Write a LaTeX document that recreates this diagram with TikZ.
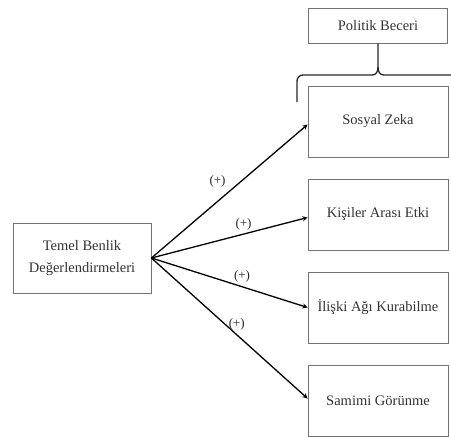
\documentclass[tikz,border=0pt]{standalone}
\usepackage{fontspec}
\setmainfont{Liberation Serif}
\usepackage{xcolor}

\begin{document}
\begin{tikzpicture}[->,>=stealth,line width=1.3pt,node distance=93pt,
  box/.style={draw=black!55,line width=0.8pt,text=black!80,align=center,
    minimum width=140pt,minimum height=71pt,font=\fontsize{14.5}{22}\selectfont},
  sign/.style={text=black!85,font=\fontsize{13}{15}\selectfont},
  brace/.style={-,line width=1.3pt,black!85}]

            \useasboundingbox (0,0) rectangle (451pt,-437pt);

            \node[box] (sz) at (378pt,-121.5pt) {Sosyal Zeka};
            \node[box] (kae) [below of = sz] {Kişiler Arası Etki};
            \node[box] (iak) [below of = kae] {İlişki Ağı Kurabilme};
            \node[box] (sg) [below of = iak] {Samimi Görünme};
            \node[box, minimum height=35pt, minimum width=139pt] (pb) [above of = sz, node distance=96pt] {Politik Beceri};
            \node[box, minimum width=138pt, minimum height=70pt] (tbd) at (82pt,-258pt) {Temel Benlik\\Değerlendirmeleri};

            \coordinate (bl) at (297pt,-102pt);
            \coordinate (br) at (451pt,-75pt);

            \draw (tbd.east) to node[sign, pos=0.5, above left] {(+)} ([yshift=-3pt]sz.west);
            \draw (tbd.east) to node[sign, pos=0.59, above] {(+)} ([yshift=-3pt]kae.west);
            \draw (tbd.east) to node[sign, pos=0.58, above] {(+)} (iak.west);
            \draw (tbd.east) to node[sign, pos=0.47, right] {(+)} ([yshift=2pt]sg.west);

            \draw[brace] (bl) -- (297pt,-81pt) to[out=90,in=180] (303pt,-75pt) -- (372pt,-75pt)
                .. controls (376pt,-75pt) and (378pt,-72pt) .. (378pt,-67pt) -- (pb.south);
            \draw[brace] (378pt,-67pt) .. controls (378pt,-72pt) and (380pt,-75pt) .. (384pt,-75pt) -- (br);

            ;
        \end{tikzpicture}
\end{document}
